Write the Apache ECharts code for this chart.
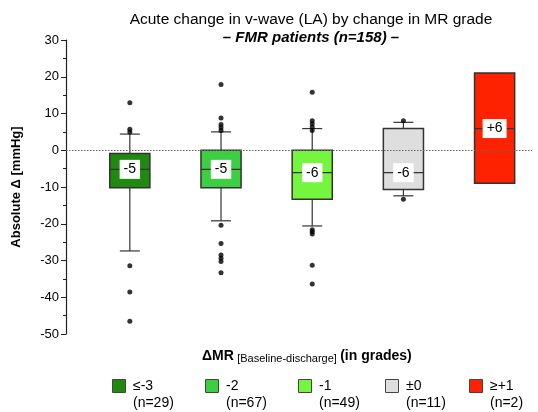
<!DOCTYPE html>
<html>
<head>
<meta charset="utf-8">
<script src="https://cdn.jsdelivr.net/npm/echarts@6/dist/echarts.min.js"></script>
<style>
  html, body { margin: 0; padding: 0; background: #fff; }
  #chart { width: 538px; height: 412px; }
</style>
</head>
<body>
<div id="chart"></div>
<script>
// groups on the x axis (1..5)
const categories = ['≤-3', '-2', '-1', '±0', '≥+1']
const counts = [29, 67, 49, 11, 2]
const colors = ['#1f8a0f', '#3bcf41', '#76f53f', '#dedede', '#ff2200']
// box stats: [low whisker, q1, median, q3, high whisker]
const lowWhisker = [-27.4, -19.2, -20.6, -12.4, -9.0]
const q1 = [-10.2, -10.2, -13.3, -10.7, -9.0]
const median = [-5.2, -5.2, -6.1, -6.1, 5.9]
const q3 = [-0.9, 0, 0, 5.9, 21.0]
const highWhisker = [4.4, 5.0, 5.9, 7.6, 21.0]
const medianLabels = ['-5', '-5', '-6', '-6', '+6']
// outliers per group
const outliers = [
  [12.9, 5.7, 5.0, -31.4, -38.6, -46.5],
  [17.9, 8.8, 7.0, 6.2, 5.4, -20.4, -25.4, -28.5, -29.4, -30.3, -33.3],
  [15.8, 8.0, 7.2, 6.3, 5.4, -21.6, -22.2, -22.8, -31.3, -36.4],
  [8.0, -13.3],
  []
]

const boxData = categories.map((c, i) => [i + 1, lowWhisker[i], q1[i], median[i], q3[i], highWhisker[i], i])
const outlierData = []
outliers.forEach((arr, i) => arr.forEach(v => outlierData.push([i + 1, v])))

const chart = echarts.init(document.getElementById('chart'))

function renderBox(params, api) {
  const x = api.value(0)
  const i = api.value(6)
  const lo = api.coord([x, api.value(1)])
  const b1 = api.coord([x, api.value(2)])
  const md = api.coord([x, api.value(3)])
  const b3 = api.coord([x, api.value(4)])
  const hi = api.coord([x, api.value(5)])
  const hw = api.size([0.44, 0])[0] / 2
  const cap = 10
  const stroke = '#333'
  const children = []
  if (hi[1] < b3[1] - 0.5) {
    children.push({ type: 'line', shape: { x1: hi[0], y1: hi[1], x2: hi[0], y2: b3[1] }, style: { stroke: stroke, lineWidth: 1.2 } })
    children.push({ type: 'line', shape: { x1: hi[0] - cap, y1: hi[1], x2: hi[0] + cap, y2: hi[1] }, style: { stroke: stroke, lineWidth: 1.2 } })
  }
  if (lo[1] > b1[1] + 0.5) {
    children.push({ type: 'line', shape: { x1: lo[0], y1: b1[1], x2: lo[0], y2: lo[1] }, style: { stroke: stroke, lineWidth: 1.2 } })
    children.push({ type: 'line', shape: { x1: lo[0] - cap, y1: lo[1], x2: lo[0] + cap, y2: lo[1] }, style: { stroke: stroke, lineWidth: 1.2 } })
  }
  children.push({
    type: 'rect',
    shape: { x: b3[0] - hw, y: b3[1], width: hw * 2, height: b1[1] - b3[1] },
    style: { fill: colors[i], stroke: stroke, lineWidth: 1.5 }
  })
  children.push({ type: 'line', shape: { x1: md[0] - hw, y1: md[1], x2: md[0] + hw, y2: md[1] }, style: { stroke: stroke, lineWidth: 1.2 } })
  children.push({
    type: 'text',
    x: md[0], y: md[1],
    style: {
      text: medianLabels[i], align: 'center', verticalAlign: 'middle',
      font: '14px "Liberation Sans", Arial, sans-serif', fill: '#000',
      backgroundColor: '#fff', padding: [3, 4, 2, 4]
    }
  })
  return { type: 'group', children: children }
}

const legendX = [112, 205, 298, 385, 469]
const legendGraphics = []
categories.forEach((c, i) => {
  legendGraphics.push({
    type: 'rect', left: legendX[i], top: 379,
    shape: { width: 13, height: 13 },
    style: { fill: colors[i], stroke: '#444', lineWidth: 1 }
  })
  legendGraphics.push({
    type: 'text', left: legendX[i] + 21, top: 379,
    style: { text: c, font: '14px "Liberation Sans", Arial, sans-serif', fill: '#000' }
  })
  legendGraphics.push({
    type: 'text', left: legendX[i] + 21, top: 396,
    style: { text: '(n=' + counts[i] + ')', font: '14px "Liberation Sans", Arial, sans-serif', fill: '#000' }
  })
})

chart.setOption({
  animation: false,
  textStyle: { fontFamily: '"Liberation Sans", Arial, sans-serif' },
  title: {
    text: 'Acute change in v-wave (LA) by change in MR grade',
    subtext: '– FMR patients (n=158) –',
    left: 311,
    textAlign: 'center',
    top: 12,
    itemGap: 2,
    padding: 0,
    textStyle: { fontSize: 15.5, fontWeight: 'normal', color: '#000' },
    subtextStyle: { fontSize: 15, fontWeight: 'bold', fontStyle: 'italic', color: '#000' }
  },
  grid: { left: 66, right: 6, top: 40, bottom: 78 },
  xAxis: {
    type: 'value', min: 0.3, max: 5.41, show: false
  },
  yAxis: {
    type: 'value', min: -50, max: 30, interval: 10,
    name: 'Absolute Δ [mmHg]',
    nameLocation: 'middle',
    nameGap: 43,
    nameTextStyle: { fontSize: 13, fontWeight: 'bold', color: '#000' },
    axisLine: { show: true, lineStyle: { color: '#222', width: 1.2 } },
    axisTick: { show: true, length: 5, lineStyle: { color: '#222' } },
    minorTick: { show: true, splitNumber: 2, length: 3, lineStyle: { color: '#222' } },
    axisLabel: { fontSize: 13, color: '#000', margin: 7 },
    splitLine: { show: false }
  },
  series: [
    {
      type: 'line', data: [], z: 1,
      markLine: {
        silent: true, symbol: 'none', label: { show: false },
        lineStyle: { type: [1.5, 1.5], color: '#666', width: 1 },
        data: [{ yAxis: 0 }]
      }
    },
    {
      type: 'custom', z: 2,
      renderItem: renderBox,
      encode: { x: 0, y: [1, 2, 3, 4, 5] },
      data: boxData
    },
    {
      type: 'scatter', z: 3,
      symbolSize: 5,
      itemStyle: { color: '#000' },
      data: outlierData
    }
  ],
  graphic: [
    {
      type: 'text', left: 202, top: 349,
      style: {
        text: '{a|ΔMR} {b|[Baseline-discharge]} {a|(in grades)}',
        rich: {
          a: { fontSize: 14, fontWeight: 'bold', fill: '#000', fontFamily: '"Liberation Sans", Arial, sans-serif' },
          b: { fontSize: 11, fill: '#000', verticalAlign: 'bottom', padding: [6, 0, 0, 0], fontFamily: '"Liberation Sans", Arial, sans-serif' }
        }
      }
    }
  ].concat(legendGraphics)
})
</script>
</body>
</html>
